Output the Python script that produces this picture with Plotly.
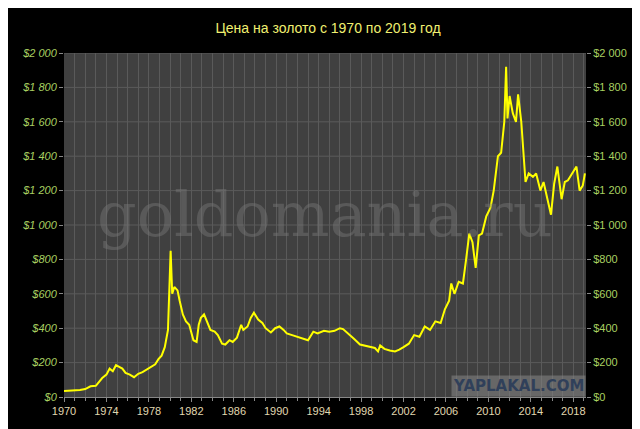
import plotly.graph_objects as go

years = [1970.0,1970.5,1971.0,1971.5,1972.0,1972.5,1973.0,1973.3,1973.6,1974.0,1974.3,1974.6,1974.9,1975.2,1975.5,1975.8,1976.2,1976.6,1977.0,1977.4,1977.8,1978.2,1978.6,1978.9,1979.2,1979.5,1979.8,1980.05,1980.2,1980.4,1980.7,1980.9,1981.2,1981.5,1981.8,1982.2,1982.5,1982.7,1982.9,1983.2,1983.5,1983.8,1984.2,1984.5,1984.9,1985.2,1985.6,1985.9,1986.3,1986.7,1986.9,1987.3,1987.6,1987.9,1988.3,1988.7,1989.0,1989.5,1989.9,1990.3,1990.7,1991.0,1991.5,1992.0,1992.5,1993.0,1993.5,1993.9,1994.5,1995.0,1995.5,1996.0,1996.3,1996.8,1997.3,1997.9,1998.3,1998.8,1999.3,1999.6,1999.8,2000.2,2000.7,2001.2,2001.6,2002.0,2002.5,2003.0,2003.5,2004.0,2004.5,2005.0,2005.5,2005.9,2006.3,2006.5,2006.8,2007.2,2007.6,2007.9,2008.2,2008.5,2008.8,2009.1,2009.4,2009.8,2010.2,2010.5,2010.9,2011.2,2011.5,2011.67,2011.8,2012.0,2012.3,2012.6,2012.8,2013.1,2013.3,2013.5,2013.8,2014.2,2014.5,2014.9,2015.2,2015.5,2015.9,2016.2,2016.5,2016.9,2017.2,2017.5,2017.9,2018.3,2018.6,2018.9,2019.1]
prices = [35,36,38,41,46,62,65,90,110,130,165,150,185,175,165,140,130,115,135,145,160,175,190,220,240,290,390,850,600,640,620,560,480,440,420,330,320,420,460,480,430,390,380,360,310,305,330,320,345,420,390,410,460,490,450,430,400,375,400,410,390,370,360,350,340,330,380,370,385,380,385,400,395,370,340,305,300,290,285,265,300,280,270,265,275,290,310,360,350,410,390,440,430,510,560,660,600,670,660,800,950,900,750,940,950,1050,1100,1200,1400,1420,1600,1920,1620,1750,1650,1600,1760,1600,1400,1250,1300,1280,1300,1200,1250,1170,1060,1240,1340,1150,1250,1260,1300,1340,1200,1230,1300]

fig = go.Figure()
fig.add_trace(go.Scatter(x=years, y=prices, mode="lines", line=dict(color="#ffff00", width=2), showlegend=False))
fig.add_trace(go.Scatter(x=[years[0]], y=[prices[0]], yaxis="y2", mode="lines", line=dict(width=0), showlegend=False, hoverinfo="skip"))

tickvals = list(range(0, 2001, 200))
ticktext = ["$" + (f"{v//1000} {v%1000:03d}" if v >= 1000 else str(v)) for v in tickvals]
ytick = dict(range=[0, 2000], tickvals=tickvals, showgrid=False, zeroline=False, ticks="outside", tickcolor="#888", ticklen=4)

fig.update_layout(
    width=640, height=429, margin=dict(l=56, r=54, t=45, b=32),
    paper_bgcolor="#000000", plot_bgcolor="#404040",
    title=dict(text="Цена на золото с 1970 по 2019 год", x=0.5, y=0.965, xanchor="center", font=dict(color="#f0f070", size=14, family="Liberation Sans")),
    xaxis=dict(range=[1970, 2019.2], tickvals=list(range(1970, 2019, 4)), tickfont=dict(color="#e0d8b0", size=11, family="Liberation Sans"),
               showgrid=True, gridcolor="#5a5a5a", gridwidth=1, minor=dict(dtick=1, showgrid=True, gridcolor="#5a5a5a", ticks="outside", ticklen=3, tickcolor="#888"),
               ticks="outside", tickcolor="#888", ticklen=4, showline=True, linecolor="#888", zeroline=False),
    yaxis=dict(**ytick, side="left", ticktext=["<i>" + t + "</i>" for t in ticktext], tickfont=dict(color="#a8d060", size=11, family="Liberation Sans")),
    yaxis2=dict(**ytick, side="right", overlaying="y", ticktext=ticktext, tickfont=dict(color="#a8d060", size=11, family="Liberation Sans")),
    shapes=[dict(type="line", xref="paper", yref="y", x0=0, x1=1, y0=y, y1=y, line=dict(color="#5a5a5a", width=1), layer="below") for y in tickvals[1:]],
    annotations=[
        dict(text="goldomania.ru", x=0.5, y=0.53, xref="paper", yref="paper", showarrow=False, font=dict(size=62, color="rgba(120,120,120,0.45)", family="DejaVu Serif")),
        dict(text="<b>YAPLAKAL.COM</b>", x=1.0, y=0.0, xref="paper", yref="paper", xanchor="right", yanchor="bottom", showarrow=False, bgcolor="rgba(130,130,130,0.6)", font=dict(size=15, color="#30405a", family="DejaVu Sans")),
    ],
)
fig.update_layout(margin=dict(l=56, r=62, t=45, b=40))
fig.write_html("out.html")
